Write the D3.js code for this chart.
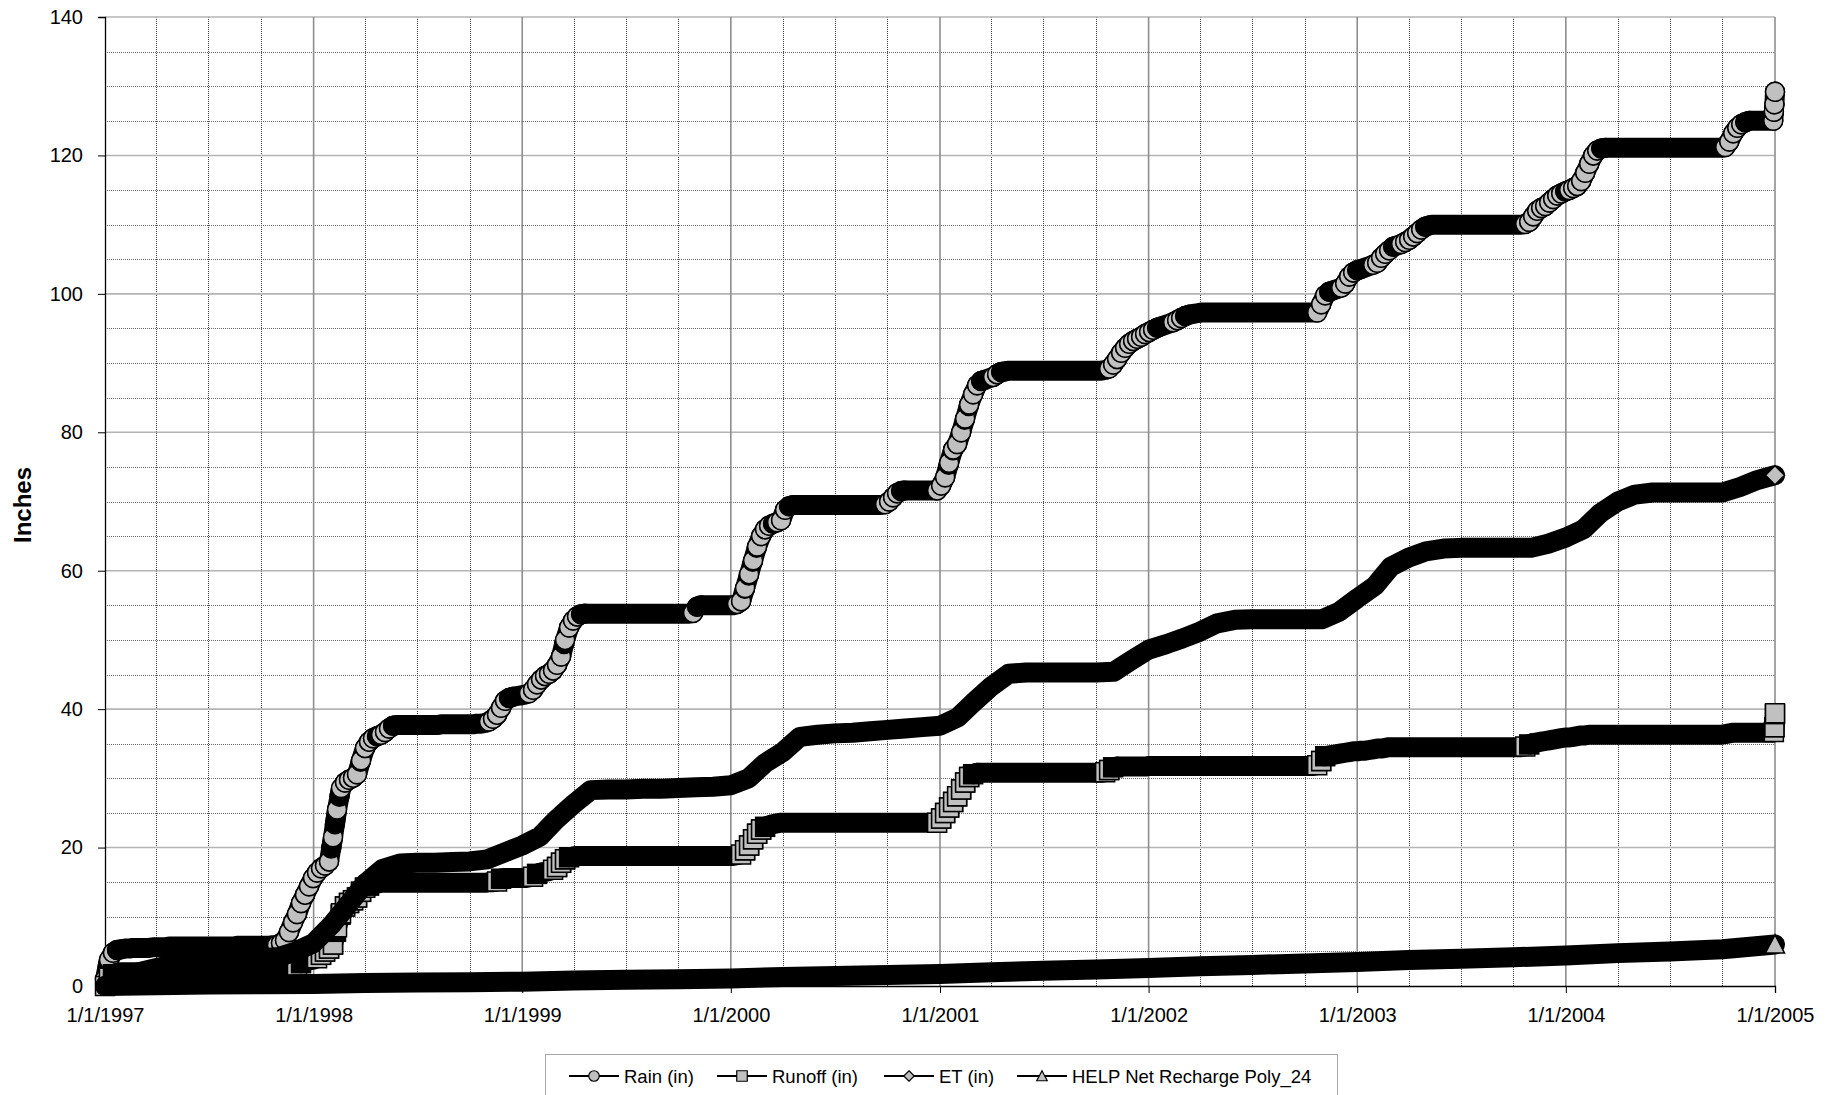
<!DOCTYPE html>
<html>
<head>
<meta charset="utf-8">
<title>Cumulative water balance, 1997-2004</title>
<script src="https://cdn.jsdelivr.net/npm/d3@7"></script>
<style>
  html, body { margin: 0; padding: 0; background: #fff; }
  svg { display: block; font-family: "Liberation Sans", Arial, Helvetica, sans-serif; }
</style>
</head>
<body>
<svg id="chart" width="1839" height="1095"></svg>
<script>
// ---------------------------------------------------------------------------
// Data: cumulative totals in inches since 1 Jan 1997.
// Rain and runoff are sampled weekly (plus the last three days of 2004),
// ET monthly and net recharge quarterly.
// ---------------------------------------------------------------------------
const DAY = 864e5;
const T0 = Date.UTC(1997, 0, 1);
const T1 = Date.UTC(2005, 0, 1);

const weekDates = d3.range(418).map(i => new Date(T0 + i * 7 * DAY))
  .concat([new Date(Date.UTC(2004, 11, 30)), new Date(Date.UTC(2004, 11, 31)), new Date(T1)]);
const monthDates = d3.utcMonth.range(new Date(T0), new Date(T1 + DAY));
const quarterDates = d3.utcMonth.every(3).range(new Date(T0), new Date(T1 + DAY));

const yearLabels = ["1/1/1997", "1/1/1998", "1/1/1999", "1/1/2000", "1/1/2001",
                    "1/1/2002", "1/1/2003", "1/1/2004", "1/1/2005"];
const yTicks = [0, 20, 40, 60, 80, 100, 120, 140];

const rainIn = [
  // 1997
  1.0, 3.8, 4.8, 5.2, 5.3, 5.4, 5.4, 5.5, 5.5, 5.5, 5.5, 5.5, 5.6, 5.6, 5.6, 5.6,
  5.7, 5.7, 5.7, 5.7, 5.7, 5.7, 5.7, 5.7, 5.7, 5.7, 5.7, 5.7, 5.7, 5.7, 5.7, 5.7, 5.7,
  5.8, 5.8, 5.8, 5.8, 5.8, 5.8, 5.8, 5.8, 5.8,
  5.9, 5.9, 6.2, 6.6, 7.8, 9.2, 10.4, 12.0, 13.2, 14.4, 15.6,
  // 1998
  16.4, 17.0, 17.4, 18.0, 21.5, 25.5, 28.6, 29.4, 29.8, 30.1, 30.6, 32.6, 34.4, 35.3, 35.8,
  36.1, 36.3, 36.7, 37.2, 37.6, 37.7,
  37.7, 37.7, 37.7, 37.7, 37.7, 37.7, 37.7, 37.7, 37.7, 37.7,
  37.8, 37.8, 37.8, 37.8, 37.8, 37.8, 37.8,
  37.8, 37.8, 37.9, 37.9, 38.0, 38.2, 38.6, 39.2, 40.2, 41.2, 41.6, 41.8, 41.9, 42.0,
  // 1999
  42.1, 42.3, 42.8, 43.6, 44.3, 44.8, 45.1, 45.6, 46.4, 47.6, 50.0, 51.8, 52.8, 53.4, 53.7, 53.8,
  53.8, 53.8, 53.8, 53.8, 53.8, 53.8, 53.8, 53.8, 53.8, 53.8,
  53.8, 53.8, 53.8, 53.8, 53.8, 53.8, 53.8, 53.8, 53.8, 53.8,
  53.8, 53.8, 53.8, 53.8, 53.8, 53.8,
  53.9, 54.8, 55.0,
  55.0, 55.0, 55.0, 55.0, 55.0, 55.0, 55.0,
  // 2000
  55.0, 55.2, 55.6, 57.5, 59.5, 61.5, 63.5, 65.0, 66.0, 66.5, 66.8, 67.0, 67.3, 68.8, 69.3, 69.5,
  69.5, 69.5, 69.5, 69.5, 69.5, 69.5, 69.5, 69.5, 69.5, 69.5,
  69.5, 69.5, 69.5, 69.5, 69.5, 69.5, 69.5, 69.5, 69.5, 69.5,
  69.5, 69.5,
  69.6, 70.0, 70.6, 71.2, 71.5, 71.6,
  71.6, 71.6, 71.6, 71.6, 71.6, 71.6, 71.6, 71.6,
  // 2001
  72.3, 73.5, 75.6, 77.5, 78.3, 80.0, 82.0, 84.0, 85.5, 86.8, 87.4, 87.6, 87.8, 88.0, 88.4, 88.7, 88.8,
  88.9, 88.9, 88.9, 88.9, 88.9, 88.9, 88.9, 88.9, 88.9, 88.9,
  88.9, 88.9, 88.9, 88.9, 88.9, 88.9, 88.9, 88.9, 88.9, 88.9,
  88.9, 88.9, 88.9, 88.9,
  89.0, 89.2, 89.8, 90.6, 91.5, 92.2, 92.8, 93.2, 93.5, 93.8, 94.2,
  // 2002
  94.5, 94.8, 95.1, 95.3, 95.5, 95.7, 95.9, 96.2, 96.5, 96.8, 97.0, 97.1, 97.2,
  97.3, 97.3, 97.3, 97.3, 97.3, 97.3, 97.3, 97.3, 97.3, 97.3,
  97.3, 97.3, 97.3, 97.3, 97.3, 97.3, 97.3, 97.3, 97.3, 97.3,
  97.3, 97.3, 97.3, 97.3, 97.3, 97.3, 97.3, 97.3, 97.3,
  97.3, 98.5, 99.8, 100.3, 100.5, 100.7, 100.9, 101.5, 102.5, 103.1,
  // 2003
  103.4, 103.6, 103.8, 104.0, 104.2, 104.5, 105.2, 105.8, 106.3, 106.8,
  107.0, 107.2, 107.5, 107.8, 108.3, 108.8, 109.3, 109.7, 109.9, 110.0,
  110.0, 110.0, 110.0, 110.0, 110.0, 110.0, 110.0, 110.0, 110.0, 110.0,
  110.0, 110.0, 110.0, 110.0, 110.0, 110.0, 110.0, 110.0, 110.0, 110.0, 110.0,
  110.0, 110.1, 110.4, 111.2, 112.0, 112.4, 112.7, 113.2, 113.7, 114.2, 114.5, 114.8,
  // 2004
  115.0, 115.3, 115.6, 116.3, 117.5, 118.8, 120.0, 120.7, 121.0, 121.1,
  121.1, 121.1, 121.1, 121.1, 121.1, 121.1, 121.1, 121.1, 121.1, 121.1,
  121.1, 121.1, 121.1, 121.1, 121.1, 121.1, 121.1, 121.1, 121.1, 121.1,
  121.1, 121.1, 121.1, 121.1, 121.1, 121.1, 121.1, 121.1, 121.1,
  121.2, 122.0, 123.2, 124.0, 124.5, 124.8, 125.0, 125.0, 125.0, 125.0, 125.0, 125.0, 125.0,
  // 30 Dec 2004 - 1 Jan 2005
  126.3, 127.4, 129.2
];

const runoffIn = [
  // 1997
  0.0, 1.2, 1.7, 1.9,
  2.0, 2.0, 2.0, 2.0, 2.0, 2.0, 2.0, 2.0, 2.0, 2.0,
  2.0, 2.0, 2.0, 2.0, 2.0, 2.0, 2.0, 2.0, 2.0, 2.0,
  2.0, 2.0, 2.0, 2.0, 2.0, 2.0, 2.0, 2.0, 2.0, 2.0,
  2.0, 2.0, 2.0, 2.0, 2.0, 2.0, 2.0, 2.0, 2.0, 2.0,
  2.0,
  2.1, 2.2, 2.2, 2.3, 3.3, 3.5, 3.7, 3.8,
  // 1998
  4.0, 4.5, 5.0, 5.4, 6.0, 8.5, 10.5, 11.5, 12.0, 12.4, 12.8, 13.6, 14.2, 14.5, 14.7, 14.8, 14.9,
  14.9, 14.9, 14.9, 14.9, 14.9, 14.9, 14.9, 14.9, 14.9, 14.9,
  14.9, 14.9, 14.9, 14.9, 14.9, 14.9, 14.9, 14.9, 14.9, 14.9,
  14.9, 14.9, 14.9, 14.9, 14.9, 14.9,
  15.0, 15.0, 15.1, 15.5, 15.6,
  15.6, 15.6, 15.6, 15.6,
  // 1999
  15.6, 15.7, 15.8, 16.2, 16.4, 16.5, 16.6, 16.8, 17.2, 17.8, 18.3, 18.6, 18.7,
  18.8, 18.8, 18.8, 18.8, 18.8, 18.8, 18.8, 18.8, 18.8, 18.8,
  18.8, 18.8, 18.8, 18.8, 18.8, 18.8, 18.8, 18.8, 18.8, 18.8,
  18.8, 18.8, 18.8, 18.8, 18.8, 18.8, 18.8, 18.8, 18.8, 18.8,
  18.8, 18.8, 18.8, 18.8, 18.8, 18.8, 18.8, 18.8, 18.8,
  // 2000
  18.8, 18.9, 19.0, 19.6, 20.3, 21.2, 22.0, 22.6, 23.0, 23.2, 23.4, 23.5,
  23.6, 23.6, 23.6, 23.6, 23.6, 23.6, 23.6, 23.6, 23.6, 23.6,
  23.6, 23.6, 23.6, 23.6, 23.6, 23.6, 23.6, 23.6, 23.6, 23.6,
  23.6, 23.6, 23.6, 23.6, 23.6, 23.6, 23.6, 23.6, 23.6, 23.6,
  23.6, 23.6, 23.6, 23.6, 23.6, 23.6, 23.6, 23.6, 23.6, 23.6,
  // 2001
  24.2, 25.0, 25.8, 26.6, 27.4, 28.4, 29.4, 30.2, 30.6, 30.8,
  30.8, 30.8, 30.8, 30.8, 30.8, 30.8, 30.8, 30.8, 30.8, 30.8,
  30.8, 30.8, 30.8, 30.8, 30.8, 30.8, 30.8, 30.8, 30.8, 30.8,
  30.8, 30.8, 30.8, 30.8, 30.8, 30.8, 30.8, 30.8, 30.8, 30.8,
  30.8,
  30.9, 31.2, 31.6,
  31.7, 31.7, 31.7, 31.7, 31.7, 31.7, 31.7, 31.7,
  // 2002
  31.8, 31.8, 31.8, 31.8, 31.8, 31.8, 31.8, 31.8, 31.8, 31.8,
  31.8, 31.8, 31.8, 31.8, 31.8, 31.8, 31.8, 31.8, 31.8, 31.8,
  31.8, 31.8, 31.8, 31.8, 31.8, 31.8, 31.8, 31.8, 31.8, 31.8,
  31.8, 31.8, 31.8, 31.8, 31.8, 31.8, 31.8, 31.8, 31.8, 31.8,
  31.8, 31.8,
  31.9, 32.5, 33.2, 33.3, 33.4, 33.5, 33.6, 33.7, 33.8, 33.9,
  // 2003
  33.9, 34.0, 34.0, 34.1, 34.2, 34.3, 34.3, 34.4,
  34.5, 34.5, 34.5, 34.5, 34.5, 34.5, 34.5, 34.5, 34.5, 34.5,
  34.5, 34.5, 34.5, 34.5, 34.5, 34.5, 34.5, 34.5, 34.5, 34.5,
  34.5, 34.5, 34.5, 34.5, 34.5, 34.5, 34.5, 34.5, 34.5, 34.5,
  34.5, 34.5, 34.5, 34.5,
  34.6, 34.9, 35.1, 35.2, 35.3, 35.4, 35.5, 35.6, 35.7, 35.8, 35.9,
  // 2004
  35.9, 36.0, 36.1, 36.2, 36.2,
  36.3, 36.3, 36.3, 36.3, 36.3, 36.3, 36.3, 36.3, 36.3, 36.3,
  36.3, 36.3, 36.3, 36.3, 36.3, 36.3, 36.3, 36.3, 36.3, 36.3,
  36.3, 36.3, 36.3, 36.3, 36.3, 36.3, 36.3, 36.3, 36.3, 36.3,
  36.3, 36.3, 36.3, 36.3,
  36.4, 36.5,
  36.6, 36.6, 36.6, 36.6, 36.6, 36.6, 36.6, 36.6, 36.6, 36.6, 36.6,
  // 30 Dec 2004 - 1 Jan 2005
  36.7, 37.4, 39.4
];

const etIn = [
  0.0, 1.2, 2.0, 2.6, 3.1, 3.5, 3.7, 3.8, 3.9, 4.0, 4.2, 5.0,            // 1997
  6.2, 8.8, 11.6, 14.8, 16.9, 17.7, 17.8, 17.8, 17.9, 18.0, 18.3, 19.3,  // 1998
  20.3, 21.6, 24.0, 26.3, 28.3, 28.4, 28.4, 28.5, 28.5, 28.6, 28.7, 28.8, // 1999
  29.0, 30.0, 32.2, 33.8, 36.0, 36.3, 36.5, 36.6, 36.8, 37.0, 37.2, 37.4, // 2000
  37.6, 38.8, 41.0, 43.3, 45.1, 45.3, 45.3, 45.3, 45.3, 45.3, 45.4, 47.0, // 2001
  48.6, 49.4, 50.2, 51.2, 52.4, 52.9, 53.0, 53.0, 53.0, 53.0, 53.0, 54.1, // 2002
  56.0, 57.8, 60.6, 61.9, 62.8, 63.2, 63.3, 63.3, 63.3, 63.3, 63.3, 63.9, // 2003
  64.8, 66.0, 68.3, 70.0, 71.0, 71.3, 71.3, 71.3, 71.3, 71.3, 72.1, 73.1, // 2004
  73.8                                                                     // 1/1/2005
];

const rechargeIn = [
  0.00, 0.12, 0.20, 0.25,  // 1997
  0.30, 0.42, 0.50, 0.55,  // 1998
  0.62, 0.78, 0.90, 0.98,  // 1999
  1.10, 1.30, 1.45, 1.60,  // 2000
  1.75, 2.00, 2.20, 2.40,  // 2001
  2.60, 2.85, 3.05, 3.25,  // 2002
  3.45, 3.75, 3.95, 4.15,  // 2003
  4.40, 4.75, 5.00, 5.30,  // 2004
  6.00                     // 1/1/2005
];

const seriesNames = ["Rain (in)", "Runoff (in)", "ET (in)", "HELP Net Recharge Poly_24"];

// ---------------------------------------------------------------------------
// Layout
// ---------------------------------------------------------------------------
const plot = { left: 105, right: 1775, top: 17, bottom: 986 };
const GRAY = "#c0c0c0";

const svg = d3.select("#chart");

const x = d3.scaleUtc().domain([new Date(T0), new Date(T1)]).range([plot.left, plot.right]);
const y = d3.scaleLinear().domain([0, 140]).range([plot.bottom, plot.top]);

const zip = (dates, vals) => dates.map((d, i) => ({ date: d, v: vals[i] }));

const series = [
  { name: seriesNames[0], data: zip(weekDates, rainIn),        shape: "circle",   events: true },
  { name: seriesNames[1], data: zip(weekDates, runoffIn),      shape: "square",   events: true },
  { name: seriesNames[2], data: zip(monthDates, etIn),         shape: "diamond",  events: false },
  { name: seriesNames[3], data: zip(quarterDates, rechargeIn), shape: "triangle", events: false }
];

// marker outlines, sized in pixels
function markerPath(shape, s) {
  switch (shape) {
    case "circle":   return d3.symbol(d3.symbolCircle, Math.PI * s * s / 4)();
    case "square":   return d3.symbol(d3.symbolSquare, s * s)();
    case "diamond":  { const h = s / 2; return `M0,${-h}L${h},0L0,${h}L${-h},0Z`; }
    case "triangle": { const h = s / 2; return `M0,${-h}L${h},${h * 0.9}L${-h},${h * 0.9}Z`; }
  }
}

// ---------------------------------------------------------------------------
// Grid
// ---------------------------------------------------------------------------
const grid = svg.append("g").attr("class", "grid");

const minorY = d3.range(5, 141, 5).filter(v => v % 20 !== 0);
const majorY = d3.range(20, 141, 20);
const quarterLines = d3.utcMonth.every(3).range(new Date(Date.UTC(1997, 3, 1)), new Date(T1 + DAY))
  .filter(d => d.getUTCMonth() !== 0);
const yearLines = d3.utcYear.range(new Date(Date.UTC(1998, 0, 1)), new Date(T1 + DAY));

grid.selectAll("line.minor-y").data(minorY).join("line")
  .attr("class", "minor-y")
  .attr("x1", plot.left).attr("x2", plot.right)
  .attr("y1", d => Math.round(y(d)) + 0.5).attr("y2", d => Math.round(y(d)) + 0.5)
  .attr("stroke", "#6a6a6a").attr("stroke-width", 1).attr("stroke-dasharray", "1,1");

grid.selectAll("line.minor-x").data(quarterLines).join("line")
  .attr("class", "minor-x")
  .attr("x1", d => Math.round(x(d)) + 0.5).attr("x2", d => Math.round(x(d)) + 0.5)
  .attr("y1", plot.top).attr("y2", plot.bottom)
  .attr("stroke", "#3c3c3c").attr("stroke-width", 1).attr("stroke-dasharray", "1,1");

grid.selectAll("line.major-y").data(majorY).join("line")
  .attr("class", "major-y")
  .attr("x1", plot.left).attr("x2", plot.right)
  .attr("y1", d => y(d)).attr("y2", d => y(d))
  .attr("stroke", "#b4b4b4").attr("stroke-width", 1.6);

grid.selectAll("line.major-x").data(yearLines).join("line")
  .attr("class", "major-x")
  .attr("x1", d => x(d)).attr("x2", d => x(d))
  .attr("y1", plot.top).attr("y2", plot.bottom)
  .attr("stroke", "#8e8e8e").attr("stroke-width", 1.6);

// ---------------------------------------------------------------------------
// Axes
// ---------------------------------------------------------------------------
const yAxis = d3.axisLeft(y).tickValues(yTicks).tickSize(7).tickPadding(15).tickFormat(d3.format("d"));
const gy = svg.append("g").attr("transform", `translate(${plot.left},0)`).call(yAxis);
gy.select(".domain").attr("stroke", "#000").attr("stroke-width", 1.3);
gy.selectAll(".tick line").attr("stroke", "#000");
gy.selectAll(".tick text").attr("font-size", 20).attr("fill", "#000")
  .attr("font-family", "'Liberation Sans', Arial, sans-serif");

const yearTicks = d3.utcYear.range(new Date(T0), new Date(T1 + DAY));
const xAxis = d3.axisBottom(x).tickValues(yearTicks).tickSize(7).tickPadding(15)
  .tickFormat((d, i) => yearLabels[i]);
const gx = svg.append("g").attr("transform", `translate(0,${plot.bottom})`).call(xAxis);
gx.select(".domain").attr("stroke", "#000").attr("stroke-width", 1.3);
gx.selectAll(".tick line").attr("stroke", "#000");
gx.selectAll(".tick text").attr("font-size", 20).attr("fill", "#000")
  .attr("font-family", "'Liberation Sans', Arial, sans-serif");

svg.append("text")
  .attr("transform", `translate(22,505) rotate(-90)`)
  .attr("text-anchor", "middle").attr("dominant-baseline", "central")
  .attr("font-size", 24).attr("font-weight", "bold")
  .text("Inches");

// ---------------------------------------------------------------------------
// Series. Each trace reads as a thick black band of overlapping outlined
// markers: a marker stays visible only where the following stretch of the
// band leaves it behind, so grey shows where the total jumps and at the end.
// ---------------------------------------------------------------------------
const band = d3.line().x(d => x(d.date)).y(d => y(d.v));
const BAND_W = 20;
const MARK = 19;

const layers = svg.append("g").attr("class", "series");

series.forEach(s => {
  const g = layers.append("g");
  const pts = s.data;
  const n = pts.length;
  const px = d => [x(d.date), y(d.v)];

  // full band underneath (round joins keep the bends solid)
  g.append("path")
    .datum(pts)
    .attr("d", band)
    .attr("fill", "none")
    .attr("stroke", "#000")
    .attr("stroke-width", BAND_W)
    .attr("stroke-linejoin", "round")
    .attr("stroke-linecap", "round");

  const marked = (i) => i === n - 1 || (s.events && pts[i + 1].v - pts[i].v >= 0.25);

  pts.forEach((d, i) => {
    if (!marked(i)) return;
    const [x0, y0] = px(d);
    g.append("path")
      .attr("class", "mark")
      .attr("transform", `translate(${x0},${y0})`)
      .attr("d", markerPath(s.shape, MARK))
      .attr("fill", GRAY)
      .attr("stroke", "#000")
      .attr("stroke-width", 1.5);
    if (i === n - 1) return;

    // the next stretch of band starts one step along and covers the rest
    const [x1, y1] = px(pts[i + 1]);
    const len = Math.hypot(x1 - x0, y1 - y0);
    const off = Math.min(len, 13);
    const cx = x0 + (x1 - x0) * off / len, cy = y0 + (y1 - y0) * off / len;
    g.append("path")
      .attr("transform", `translate(${cx},${cy})`)
      .attr("d", markerPath(s.shape, MARK + 1.5))
      .attr("fill", "#000");
    g.append("path")
      .attr("d", d3.line()([[cx, cy], [x1, y1]]))
      .attr("fill", "none")
      .attr("stroke", "#000")
      .attr("stroke-width", BAND_W)
      .attr("stroke-linecap", "butt");
    if (!marked(i + 1) && i + 2 < n) {
      g.append("path")
        .datum([pts[i + 1], pts[i + 2]])
        .attr("d", band)
        .attr("fill", "none")
        .attr("stroke", "#000")
        .attr("stroke-width", BAND_W)
        .attr("stroke-linecap", "round");
    }
  });
});

// ---------------------------------------------------------------------------
// Legend
// ---------------------------------------------------------------------------
const legend = svg.append("g").attr("class", "legend");
legend.append("rect")
  .attr("x", 545.5).attr("y", 1054.5).attr("width", 792).attr("height", 42)
  .attr("fill", "#fff").attr("stroke", "#a6a6a6").attr("stroke-width", 1);

const legendX = [569, 717, 884, 1017];
const legendY = 1076;
series.forEach((s, i) => {
  const g = legend.append("g").attr("transform", `translate(${legendX[i]},${legendY})`);
  g.append("line").attr("x1", 0).attr("x2", 50).attr("y1", 0).attr("y2", 0)
    .attr("stroke", "#000").attr("stroke-width", 2);
  g.append("path").attr("transform", "translate(25,0)")
    .attr("d", markerPath(s.shape, 10.5))
    .attr("fill", GRAY).attr("stroke", "#000").attr("stroke-width", 1.2);
  g.append("text").attr("x", 55).attr("y", 0)
    .attr("dominant-baseline", "central")
    .attr("font-size", 18.5).attr("fill", "#000")
    .text(s.name);
});
</script>
</body>
</html>
